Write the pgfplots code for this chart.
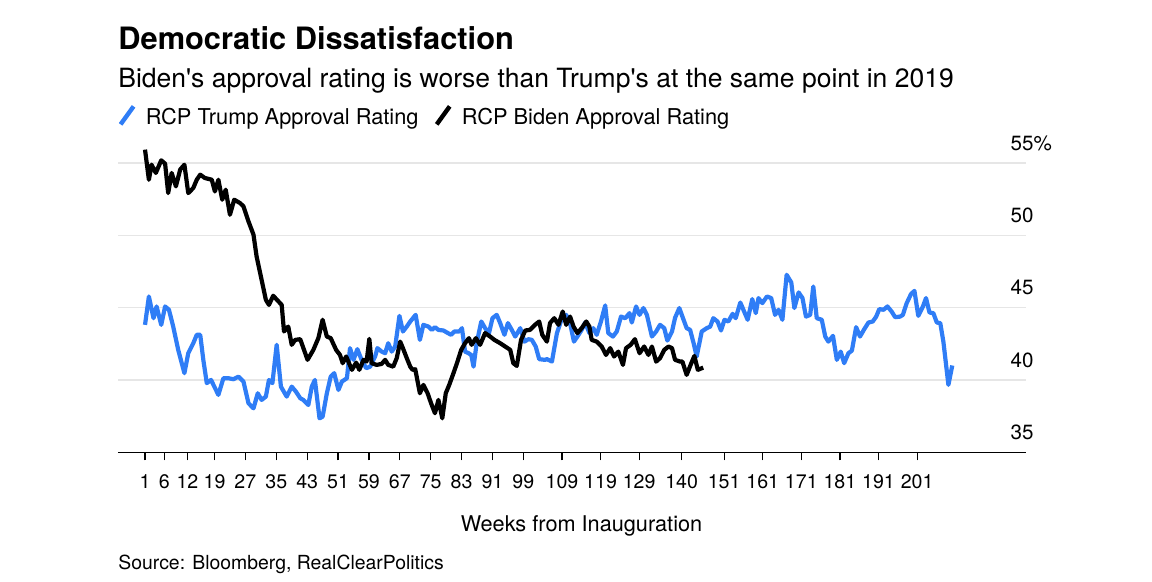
\documentclass[border=0pt]{standalone}
\usepackage{pgfplots}
\pgfplotsset{compat=1.18}
\usepackage{pgfplotstable}
\usepackage{fontspec}
\setmainfont{TeX Gyre Heros}
\definecolor{trumpblue}{HTML}{2F7DF6}
\definecolor{gridgray}{HTML}{E6E6E6}

\pgfplotstableread{
w v
1.0 43.81
2.0 45.77
3.2 44.27
4.0 45.08
5.2 43.81
6.2 45.08
7.2 44.85
8.3 43.69
9.6 42.08
11.2 40.47
12.2 41.85
13.5 42.54
14.4 43.12
15.3 43.12
16.1 41.39
17.0 39.78
18.1 40.00
20.0 38.97
21.3 40.12
22.6 40.12
23.9 40.05
25.2 40.23
26.5 39.89
27.8 38.39
29.1 38.04
30.2 39.08
31.2 38.62
32.3 38.85
33.1 40.00
34.0 39.78
35.1 42.43
36.2 39.54
37.7 38.85
39.0 39.54
40.1 39.19
41.2 38.74
42.0 38.62
43.3 38.27
44.2 39.54
45.0 40.00
46.2 37.35
47.0 37.46
48.1 39.08
49.1 40.23
50.0 40.47
51.1 39.31
52.0 39.89
53.3 40.12
54.1 42.20
55.0 41.39
56.0 42.13
57.1 41.39
58.3 40.81
59.3 40.92
60.6 41.62
61.2 42.20
62.3 41.96
63.2 41.85
64.0 42.54
64.9 41.96
65.8 42.31
66.9 44.43
67.8 43.35
68.8 43.69
69.7 44.04
71.1 44.50
72.2 42.77
73.1 43.81
74.4 43.69
75.3 43.46
76.1 43.65
77.0 43.46
78.3 43.42
79.2 43.28
80.3 43.12
81.1 43.35
82.4 43.35
83.1 43.58
83.9 41.96
84.8 41.85
85.5 41.73
86.1 40.92
86.9 42.54
88.1 44.04
89.1 43.58
90.1 43.24
91.0 44.27
92.1 44.50
93.0 43.93
94.1 43.12
95.0 43.93
96.0 43.46
96.9 43.00
98.2 43.58
99.3 42.65
100.3 42.82
101.2 42.77
102.2 42.31
103.1 41.44
104.6 41.39
105.1 41.44
106.4 41.27
107.7 43.24
108.7 44.04
110.1 44.50
111.1 43.93
112.1 42.65
113.3 43.12
114.1 43.46
115.0 43.97
116.1 43.24
117.1 43.58
118.0 43.12
119.1 44.04
120.2 45.15
121.0 43.24
122.2 43.00
123.2 43.35
124.3 44.38
125.4 44.27
126.5 44.62
127.1 43.97
128.2 45.08
129.1 44.50
130.1 44.97
131.0 44.50
132.3 43.00
133.4 43.35
134.4 43.81
135.5 43.58
136.3 42.72
137.5 43.35
138.3 44.30
139.4 44.97
140.2 44.38
141.3 43.58
142.2 43.46
143.1 42.54
143.9 41.62
145.2 43.35
146.5 43.58
147.4 43.69
148.2 44.27
149.3 44.04
150.2 43.42
151.1 44.16
152.1 44.04
153.2 44.57
154.0 44.27
155.2 45.35
156.0 44.85
157.1 44.16
158.3 45.59
159.2 44.62
159.9 45.66
160.9 45.31
162.1 45.77
163.2 45.66
164.2 44.50
165.1 44.85
166.1 44.16
167.2 47.27
168.4 46.74
169.2 44.97
170.3 46.05
171.3 45.66
172.2 44.38
173.3 44.50
174.1 46.46
175.0 44.27
176.3 44.16
177.2 43.00
178.0 42.65
179.2 43.05
180.2 41.39
181.2 41.96
182.1 41.16
183.2 41.85
184.1 42.03
185.2 43.65
186.2 43.00
187.3 43.51
188.4 43.97
189.5 44.04
190.4 44.38
191.2 44.90
192.3 44.85
193.3 45.08
194.4 44.73
195.3 44.34
196.6 44.38
197.3 44.50
198.3 45.31
199.4 45.93
200.3 46.16
201.3 44.43
202.5 45.08
203.3 45.66
204.2 44.66
205.2 44.62
206.1 43.97
207.0 43.93
207.8 42.65
209.1 39.66
210.1 41.00
}\trumptable

\pgfplotstableread{
w v
1.0 55.92
2.0 53.84
2.7 54.88
3.8 54.31
5.2 55.18
6.2 54.95
7.0 52.92
7.9 54.31
9.0 53.38
10.1 54.54
11.2 54.88
12.2 52.92
13.5 53.27
14.4 53.84
15.3 54.19
16.5 53.96
18.3 53.84
19.1 53.03
20.0 53.84
21.0 52.46
21.9 53.15
23.0 51.42
24.1 52.46
25.6 52.23
26.5 52.00
27.8 50.96
29.1 50.04
29.9 48.54
31.2 46.92
32.3 45.54
33.1 45.19
34.2 45.82
36.4 45.19
37.0 43.35
38.1 43.69
39.0 42.43
39.9 42.77
41.2 42.82
43.1 41.39
44.6 42.08
45.9 42.89
47.0 44.16
48.1 43.00
49.1 42.89
50.5 42.08
51.5 41.73
52.2 41.16
53.1 41.62
54.6 40.70
55.7 41.20
56.5 40.70
57.6 41.39
58.4 41.27
59.1 42.84
59.7 41.16
61.0 41.04
62.3 41.11
63.2 41.39
64.0 41.04
65.3 40.92
66.2 41.51
67.1 42.65
67.8 42.20
68.8 41.51
69.7 40.92
70.3 40.70
71.0 40.74
72.2 39.08
73.1 39.66
74.2 39.08
75.1 38.39
76.1 37.70
77.0 38.62
78.0 37.35
78.9 39.08
79.8 39.66
80.9 40.47
81.8 41.16
82.9 42.08
83.9 42.54
84.9 42.89
85.6 42.43
86.7 42.89
87.8 42.43
89.1 43.24
90.4 43.00
91.5 42.77
93.0 42.54
94.3 42.31
95.6 42.08
96.4 41.16
97.3 40.97
98.4 42.77
99.5 43.42
100.7 43.46
102.0 43.81
103.1 44.04
103.9 43.12
105.1 42.65
105.9 43.93
107.0 44.27
108.1 43.81
109.2 44.73
110.1 43.81
111.1 44.38
112.0 43.69
113.0 43.24
114.1 43.58
115.3 44.04
116.1 43.69
116.7 42.77
118.0 42.65
119.3 42.31
120.4 41.73
121.5 42.20
122.5 41.62
123.6 41.96
124.8 41.04
125.6 42.20
126.8 42.43
127.9 42.82
129.1 41.85
130.3 42.31
131.4 41.73
132.3 42.31
133.4 41.27
134.4 41.51
135.5 42.08
136.6 42.31
137.5 42.20
138.3 41.39
139.6 41.27
140.2 41.27
141.3 40.35
142.5 41.16
143.3 41.66
144.2 40.70
145.2 40.81
145.6 40.85
}\bidentable

\begin{document}
\begin{tikzpicture}
\begin{axis}[
  at={(0,0)}, anchor=south west,
  scale only axis, width=454pt, height=151.9pt,
  xmin=-6, xmax=229.2, ymin=35, ymax=56,
  axis x line*=bottom, axis y line*=right,
  y axis line style={draw=none},
  x axis line style={black, line width=0.6pt},
  xtick={1,6,12,19,27,35,43,51,59,67,75,83,91,99,109,119,129,140,151,161,171,181,191,201},
  xticklabels={1,6,12,19,27,35,43,51,59,67,75,83,91,99,109,119,129,140,151,161,171,181,191,201},
  xtick style={black, line width=0.6pt},
  major tick length=4pt, tick align=outside,
  ytick={35,40,45,50,55},
  yticklabels={35,40,45,50,55\rlap{\%}},
  ytick style={draw=none},
  ymajorgrids, grid style={gridgray, line width=0.6pt},
  yticklabel style={anchor=base east, inner xsep=0pt, yshift=6.35pt, font=\fontsize{10.3}{12}\selectfont},
  xticklabel style={anchor=north, inner ysep=0pt, yshift=-7pt, font=\fontsize{9.8}{12}\selectfont},
  clip=false,
  legend columns=2,
  legend cell align=left,
  legend image code/.code={\draw[#1, line width=2.2pt] (0pt,-3.1pt) -- (6.5pt,5.9pt);},
  legend style={at={(0,1.107)}, anchor=west, draw=none, fill=none, inner sep=0pt,
    font=\fontsize{10.9}{13}\selectfont,
    nodes={inner sep=0pt},
    /tikz/every odd column/.append style={column sep=5pt},
    /tikz/every even column/.append style={column sep=8pt}},
]
\addplot[trumpblue, line width=2.1pt, line join=round, no markers] table[x=w, y=v] {\trumptable};
\addlegendentry{RCP Trump Approval Rating}
\addplot[black, line width=2.1pt, line join=round, no markers] table[x=w, y=v] {\bidentable};
\addlegendentry{RCP Biden Approval Rating}
\end{axis}
\node[anchor=base west, inner sep=0pt, font=\fontsize{15.4}{18}\selectfont\bfseries] at (0pt,201.15pt) {Democratic Dissatisfaction};
\node[anchor=base west, inner sep=0pt, font=\fontsize{13.25}{15.5}\selectfont] at (0pt,182.6pt) {Biden\textquotesingle s approval rating is worse than Trump\textquotesingle s at the same point in 2019};
\node[anchor=base, inner sep=0pt, font=\fontsize{10.85}{13}\selectfont] at (231.75pt,-39.7pt) {Weeks from Inauguration};
\node[anchor=base west, inner sep=0pt, font=\fontsize{9.7}{12}\selectfont] at (0pt,-58.7pt) {Source: Bloomberg, RealClearPolitics};
\path[use as bounding box] (-59pt,-64.85pt) rectangle (517pt,226.15pt);
\end{tikzpicture}
\end{document}
